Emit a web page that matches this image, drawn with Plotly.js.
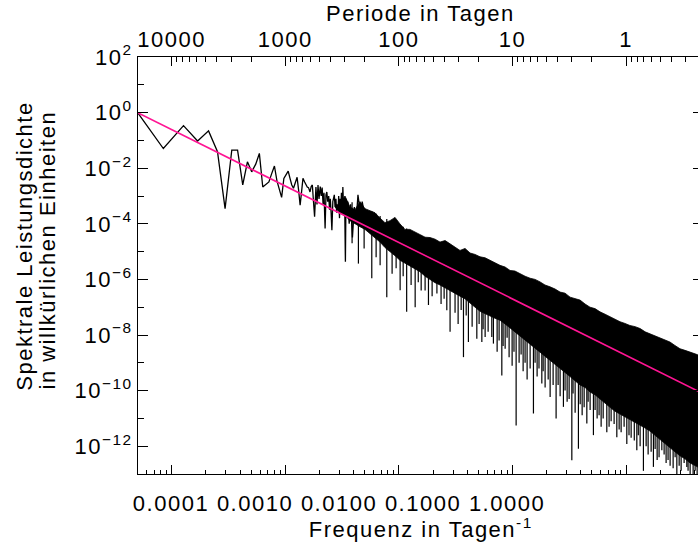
<!DOCTYPE html>
<html><head><meta charset="utf-8">
<script src="https://cdn.plot.ly/plotly-3.0.1.min.js"></script>
<style>
html,body{margin:0;padding:0;overflow:hidden;background:#fff}
#chart{width:706px;height:544px}
.main-svg text{letter-spacing:1.5px}
</style></head><body><div id="chart"></div>
<script>
// Low-frequency part of the spectrum (individually visible points)
const specFreq = [4.22e-5,8.44e-5,1.27e-4,1.69e-4,2.11e-4,2.53e-4,2.95e-4,3.38e-4,3.80e-4,4.22e-4,
 4.64e-4,5.06e-4,5.49e-4,5.91e-4,6.33e-4,6.75e-4,7.17e-4,7.60e-4,8.02e-4,8.44e-4,
 8.86e-4,9.28e-4,9.71e-4,1.01e-3,1.06e-3,1.10e-3,1.14e-3,1.18e-3,1.22e-3,1.27e-3,
 1.31e-3,1.35e-3,1.39e-3,1.43e-3,1.48e-3,1.52e-3,1.56e-3,1.60e-3,1.65e-3,1.69e-3,
 1.73e-3,1.77e-3,1.81e-3,1.86e-3,1.90e-3,1.94e-3,1.98e-3,2.03e-3,2.07e-3,2.11e-3,
 2.15e-3,2.19e-3,2.24e-3,2.28e-3,2.32e-3,2.36e-3,2.41e-3,2.45e-3,2.49e-3,2.53e-3,
 2.57e-3,2.62e-3,2.66e-3,2.70e-3,2.74e-3,2.79e-3,2.83e-3,2.87e-3,2.91e-3,2.95e-3,
 3.00e-3,3.04e-3,3.08e-3,3.12e-3,3.17e-3,3.21e-3,3.25e-3,3.29e-3,3.33e-3,3.38e-3,
 3.42e-3,3.46e-3,3.55e-3,3.65e-3,3.76e-3,3.90e-3,4.05e-3,4.22e-3,4.36e-3,4.60e-3,
 4.75e-3,5.10e-3];
const specPower = [2.7,5.1e-2,0.34,9.5e-2,0.22,3.9e-2,3.5e-4,4.5e-2,4.5e-2,2.5e-3,
 1.7e-2,7.4e-3,1.4e-2,3.4e-2,2.1e-3,2.7e-3,3.2e-3,6.5e-3,1.2e-2,3.5e-3,
 1.9e-3,8.9e-4,4.3e-3,5.6e-3,7.9e-3,4.3e-3,2.5e-3,1.9e-3,2.8e-3,4.7e-3,
 1.6e-3,4.7e-4,1.4e-3,4.3e-3,3.2e-3,2.5e-3,2.1e-3,2.0e-3,1.4e-3,2.2e-3,
 2.5e-3,6.3e-4,1.8e-4,2.1e-3,5.0e-4,2.5e-3,7.9e-4,2.2e-3,1.0e-3,2.0e-3,
 5.0e-4,1.3e-3,6.8e-5,1.1e-3,1.4e-3,6.3e-4,1.0e-3,3.2e-4,7.9e-4,2.5e-4,
 5.9e-5,6.3e-4,8.9e-4,1.1e-3,4.0e-4,7.9e-4,2.5e-4,5.0e-4,3.1e-4,1.0e-3,
 1.6e-4,7.9e-4,4.0e-4,1.3e-3,2.5e-4,2.1e-3,5.0e-4,2.0e-4,6.3e-4,4.3e-6,
 7.9e-4,4.0e-4,6.3e-4,1.0e-4,5.0e-4,3.2e-5,4.0e-4,1.6e-4,1.1e-3,2.0e-4,
 6.3e-4,1.3e-4];

// Dense part: upper and lower edge of the solid black band
const bandFreq = [2.74e-3,3.03e-3,3.35e-3,3.71e-3,4.11e-3,4.54e-3,5.03e-3,5.57e-3,6.16e-3,6.82e-3,
 7.54e-3,8.35e-3,9.24e-3,1.02e-2,1.13e-2,1.25e-2,1.39e-2,1.53e-2,1.70e-2,1.88e-2,
 2.08e-2,2.30e-2,2.55e-2,2.82e-2,3.12e-2,3.45e-2,3.82e-2,4.23e-2,4.68e-2,5.18e-2,
 5.73e-2,6.34e-2,7.01e-2,7.76e-2,8.59e-2,9.51e-2,0.105,0.116,0.129,0.143,
 0.158,0.175,0.193,0.214,0.237,0.262,0.290,0.321,0.355,0.393,
 0.435,0.481,0.532,0.589,0.652,0.722,0.799,0.884,0.978,1.08,
 1.20,1.33,1.47,1.62,1.80,1.99,2.20,2.43,2.69,2.98,
 3.30,3.65,4.04,4.48,4.96];
const bandUpper = [4.0e-4,5.0e-4,1.0e-3,4.0e-4,3.2e-4,6.3e-4,3.5e-4,3.0e-4,2.5e-4,1.6e-4,
 1.1e-4,1.3e-4,1.7e-4,1.0e-4,6.3e-5,6.3e-5,5.0e-5,4.0e-5,3.3e-5,3.2e-5,
 2.8e-5,2.2e-5,2.5e-5,1.9e-5,1.4e-5,1.1e-5,1.3e-5,8.9e-6,7.9e-6,6.5e-6,
 6.0e-6,4.9e-6,4.0e-6,3.2e-6,2.8e-6,2.1e-6,2.0e-6,1.6e-6,1.3e-6,1.1e-6,
 1.0e-6,8.1e-7,6.3e-7,5.4e-7,4.5e-7,3.5e-7,3.2e-7,2.3e-7,2.1e-7,1.8e-7,
 1.3e-7,1.0e-7,8.9e-8,6.8e-8,5.6e-8,4.5e-8,3.8e-8,3.0e-8,2.6e-8,2.2e-8,
 2.0e-8,1.7e-8,1.3e-8,1.1e-8,8.9e-9,7.4e-9,6.6e-9,5.6e-9,4.2e-9,3.2e-9,
 2.8e-9,2.5e-9,2.1e-9,1.8e-9,1.5e-9];
const bandLower = [4.0e-4,2.5e-4,2.0e-4,1.3e-4,1.0e-4,7.9e-5,6.3e-5,4.5e-5,3.2e-5,2.2e-5,
 1.4e-5,1.0e-5,7.1e-6,4.9e-6,3.8e-6,3.0e-6,2.4e-6,1.9e-6,1.3e-6,1.0e-6,
 7.6e-7,6.3e-7,5.2e-7,4.1e-7,3.2e-7,2.5e-7,2.0e-7,1.4e-7,1.0e-7,7.1e-8,
 5.6e-8,4.8e-8,4.0e-8,3.4e-8,2.5e-8,1.8e-8,1.3e-8,1.0e-8,7.1e-9,5.0e-9,
 3.5e-9,2.5e-9,1.8e-9,1.3e-9,8.9e-10,6.3e-10,4.5e-10,3.2e-10,2.2e-10,1.6e-10,
 1.3e-10,8.9e-11,7.1e-11,5.0e-11,3.5e-11,2.5e-11,1.8e-11,1.4e-11,1.1e-11,8.9e-12,
 7.1e-12,5.6e-12,4.5e-12,3.5e-12,2.5e-12,1.8e-12,1.3e-12,8.9e-13,6.3e-13,4.5e-13,
 3.5e-13,2.5e-13,2.0e-13,1.6e-13,1.3e-13];

// Downward dips below the band (from local high to dip minimum)
const dipFreq = [3.87e-3,4.40e-3,4.94e-3,5.77e-3,6.30e-3,6.83e-3,7.82e-3,8.71e-3,9.45e-3,1.025e-2,
 1.17e-2,1.28e-2,1.39e-2,1.57e-2,1.82e-2,1.96e-2,2.16e-2,2.35e-2,2.64e-2,2.82e-2,
 3.12e-2,3.32e-2,3.70e-2,4.09e-2,4.41e-2,4.85e-2,5.37e-2,5.74e-2,6.10e-2,6.57e-2,
 6.79e-2,7.32e-2,8.05e-2,8.61e-2,9.33e-2,9.92e-2,0.1076,0.1143,0.124,0.1344,
 0.1429,0.1528,0.1646,0.1811,0.1936,0.2143,0.2277,0.2419,0.2624,0.2806,
 0.3024,0.3327,0.3557,0.3803,0.41,0.4509,0.482,0.5154,0.5555,0.6025,
 0.6761,0.7378,0.8282,0.9036,1.014,1.107,1.242,1.328,1.42,1.562,
 1.739,1.875,2.062,2.249,2.439,2.593,2.795,3.049,3.422,3.66,
 3.889,4.217,
 1.09e-2,1.48e-2,1.70e-2,2.50e-2,3.53e-2,3.91e-2,5.08e-2,5.51e-2,7.62e-2,8.26e-2,
 8.96e-2,0.103,0.119,0.129,0.158,0.171,0.186,0.206,0.252,0.290,
 0.315,0.341,0.394,0.427,0.463,0.533,0.578,0.628,0.708,0.784,
 0.868,0.960,1.06,1.18,1.28,1.50,1.66,1.80,1.95,2.16,
 2.34,2.70,2.93,3.24,3.51,4.05];
const dipHigh = [6.0e-4,4.7e-4,3.7e-4,2.8e-4,2.3e-4,1.9e-4,1.5e-4,1.2e-4,1.0e-4,8.7e-5,
 6.8e-5,5.6e-5,4.8e-5,3.8e-5,2.8e-5,2.5e-5,2.0e-5,1.7e-5,1.3e-5,1.2e-5,
 9.8e-6,8.5e-6,6.9e-6,5.6e-6,4.9e-6,4.1e-6,3.3e-6,2.9e-6,2.6e-6,2.2e-6,
 2.1e-6,1.8e-6,1.5e-6,1.3e-6,1.1e-6,1.0e-6,8.9e-7,7.9e-7,6.8e-7,5.9e-7,
 5.2e-7,4.7e-7,4.0e-7,3.4e-7,3.0e-7,2.5e-7,2.2e-7,1.9e-7,1.7e-7,1.5e-7,
 1.3e-7,1.1e-7,9.5e-8,8.5e-8,7.4e-8,6.2e-8,5.5e-8,4.8e-8,4.2e-8,3.6e-8,
 2.9e-8,2.5e-8,2.0e-8,1.7e-8,1.4e-8,1.2e-8,9.3e-9,8.3e-9,7.4e-9,6.2e-9,
 5.0e-9,4.4e-9,3.7e-9,3.2e-9,2.7e-9,2.4e-9,2.1e-9,1.8e-9,1.4e-9,1.3e-9,
 1.1e-9,9.8e-10,
 7.8e-5,4.3e-5,3.2e-5,1.5e-5,7.6e-6,6.2e-6,3.7e-6,3.2e-6,1.7e-6,1.4e-6,
 1.3e-6,9.5e-7,7.4e-7,6.3e-7,4.4e-7,3.7e-7,3.2e-7,2.6e-7,1.8e-7,1.4e-7,
 1.2e-7,1.0e-7,7.9e-8,6.9e-8,5.9e-8,4.6e-8,3.9e-8,3.4e-8,2.7e-8,2.2e-8,
 1.8e-8,1.5e-8,1.3e-8,1.0e-8,8.9e-9,6.6e-9,5.5e-9,4.7e-9,4.1e-9,3.4e-9,
 2.9e-9,2.2e-9,1.9e-9,1.6e-9,1.4e-9,1.0e-9];
const dipLow = [2.0e-5,3.7e-6,1.3e-5,1.1e-6,6.3e-6,3.2e-6,2.3e-7,1.6e-6,2.5e-6,4.1e-7,
 6.8e-8,6.3e-7,1.0e-7,4.0e-7,1.2e-7,2.5e-7,3.1e-7,1.3e-7,7.8e-8,1.3e-8,
 6.3e-8,2.5e-8,1.6e-9,5.6e-9,2.0e-8,7.4e-9,5.6e-9,8.5e-9,1.3e-8,8.5e-9,
 4.9e-9,2.5e-9,3.5e-10,3.2e-9,1.6e-9,7.9e-10,5.6e-12,1.0e-9,5.0e-10,2.5e-10,
 6.3e-10,1.5e-11,3.2e-10,1.8e-10,1.3e-10,5.9e-11,1.6e-10,1.0e-11,6.3e-11,2.6e-11,
 4.0e-11,3.1e-13,1.6e-11,8.1e-13,1.3e-11,6.5e-12,2.0e-11,2.5e-12,1.0e-11,5.0e-12,
 3.2e-12,7.9e-12,2.1e-12,3.2e-12,1.2e-12,2.0e-12,7.1e-13,1.0e-12,1.3e-13,5.0e-13,
 1.8e-13,3.2e-13,7.1e-13,2.5e-13,2.0e-13,1.6e-13,6.3e-14,1.3e-13,1.8e-13,6.3e-14,
 6.3e-14,7.9e-14,
 1.3e-6,7.9e-7,4.0e-7,2.0e-7,7.9e-8,5.0e-8,2.5e-8,1.6e-8,6.3e-9,4.0e-9,
 7.9e-9,2.5e-9,2.0e-9,1.0e-9,1.0e-9,6.3e-10,5.0e-10,2.5e-10,1.6e-10,1.0e-10,
 5.0e-11,7.9e-11,3.2e-11,2.5e-11,4.0e-11,2.0e-11,1.3e-11,1.0e-11,5.0e-12,6.3e-12,
 4.0e-12,5.0e-12,2.5e-12,1.6e-12,2.5e-12,1.0e-12,6.3e-13,7.9e-13,4.0e-13,5.0e-13,
 3.2e-13,4.0e-13,2.0e-13,2.5e-13,1.3e-13,1.3e-13];

// Fitted power law (magenta line)
const fitFreq = [5.0e-5, 5.0];
const fitPower = [1.0, 7.0e-11];

// Tick labels
const freqTicks = [1e-4, 1e-3, 1e-2, 1e-1, 1];
const freqTickText = ["0.0001","0.0010","0.0100","0.1000","1.0000"];
const periodTicks = [10000, 1000, 100, 10, 1];
const periodTickText = ["10000","1000","100","10","1"];
const powerTicks = [1e2,1,1e-2,1e-4,1e-6,1e-8,1e-10,1e-12];
const powerTickText = ["10<sup>2</sup>","10<sup>0</sup>","10<sup>\u22122</sup>","10<sup>\u22124</sup>",
 "10<sup>\u22126</sup>","10<sup>\u22128</sup>","10<sup>\u221210</sup>","10<sup>\u221212</sup>"];
const powerMinor = [1e1,1e-1,1e-3,1e-5,1e-7,1e-9,1e-11];

const FONT = '"Liberation Sans", Arial, sans-serif';
const xLo = Math.log10(5.05e-5), xHi = Math.log10(4.75);
// the bottom labels of the original are spaced more tightly than its ticks
const labLo = -4.393, labHi = 2.333;

const mult = [2,3,4,5,6,7,8,9];
const freqMinor = [];
[1e-5,1e-4,1e-3,1e-2,1e-1,1].forEach(d => mult.forEach(m => freqMinor.push(m*d)));
const periodMinor = [];
[10000,1000,100,10,1,0.1].forEach(d => mult.forEach(m => periodMinor.push(1/(m*d))));

const dipX = [], dipY = [];
dipFreq.forEach((f,i) => { dipX.push(f,f,null); dipY.push(dipHigh[i], dipLow[i], null); });

const traces = [
  {x: bandFreq.concat(bandFreq.slice().reverse()), y: bandUpper.concat(bandLower.slice().reverse()),
   type:'scatter', mode:'lines', fill:'toself', fillcolor:'#000', line:{color:'#000', width:0.8},
   hoverinfo:'skip', showlegend:false},
  {x: dipX, y: dipY, type:'scatter', mode:'lines', line:{color:'#000', width:1.2}, showlegend:false, hoverinfo:'skip'},
  {x: specFreq, y: specPower, type:'scatter', mode:'lines', line:{color:'#000', width:1.3}, showlegend:false},
  {x: [null], y: [null], xaxis:'x3', type:'scatter', mode:'lines', showlegend:false},
  {x: fitFreq, y: fitPower, type:'scatter', mode:'lines', xaxis:'x2', line:{color:'#ff1493', width:1.6}, showlegend:false}
];

const tickFont = {family:FONT, size:22, color:'#000'};
const axisCommon = {type:'log', range:[xLo, xHi], showgrid:false, zeroline:false,
  showline:true, linecolor:'#000', linewidth:1, ticks:'inside', tickcolor:'#000', tickwidth:1,
  tickfont:tickFont, tickmode:'array'};

const layout = {
  width:706, height:544,
  margin:{l:138, r:3, t:57, b:70},
  paper_bgcolor:'#fff', plot_bgcolor:'#fff', showlegend:false,
  xaxis: Object.assign({}, axisCommon, {tickvals:freqTicks, ticktext:freqTickText, ticklen:9,
    showticklabels:false,
    minor:{tickmode:'array', tickvals:freqMinor, ticklen:4.5, ticks:'inside', tickcolor:'#000', tickwidth:1}}),
  xaxis3: {overlaying:'x', side:'bottom', anchor:'y', type:'log', range:[labLo, labHi],
    showgrid:false, zeroline:false, showline:false, ticks:'', tickmode:'array',
    tickvals:freqTicks, ticktext:freqTickText, tickfont:tickFont, ticklabelstandoff:14},
  xaxis2: Object.assign({}, axisCommon, {overlaying:'x', side:'top', anchor:'y',
    tickvals:periodTicks.map(p => 1/p), ticktext:periodTickText, ticklen:9, ticklabelstandoff:0,
    minor:{tickmode:'array', tickvals:periodMinor, ticklen:5, ticks:'inside', tickcolor:'#000', tickwidth:1}}),
  yaxis: {type:'log', range:[-13, 2], showgrid:false, zeroline:false, showline:true, linecolor:'#000',
    linewidth:1, mirror:'ticks', ticks:'inside', ticklen:10, tickcolor:'#000', tickwidth:1,
    tickmode:'array', tickvals:powerTicks, ticktext:powerTickText, ticklabelstandoff:0,
    tickfont:tickFont,
    minor:{tickmode:'array', tickvals:powerMinor, ticklen:5.5, ticks:'inside', tickcolor:'#000', tickwidth:1}},
  annotations: [
    {text:'Frequenz in Tagen<sup>-1</sup>', xref:'paper', yref:'paper', x:0.5, y:(474-528)/417,
     xanchor:'center', yanchor:'middle', showarrow:false, font:{family:FONT, size:22, color:'#000'}},
    {text:'Periode in Tagen', xref:'paper', yref:'paper', x:0.5, y:(474-14)/417,
     xanchor:'center', yanchor:'middle', showarrow:false, font:{family:FONT, size:22, color:'#000'}},
    {text:'Spektrale Leistungsdichte', xref:'paper', yref:'paper', x:(24-138)/565, y:(474-374)/417, textangle:-90,
     xanchor:'center', yanchor:'bottom', showarrow:false, font:{family:FONT, size:22, color:'#000'}},
    {text:'in willkürlichen Einheiten', xref:'paper', yref:'paper', x:(47-138)/565, y:(474-372)/417, textangle:-90,
     xanchor:'center', yanchor:'bottom', showarrow:false, font:{family:FONT, size:22, color:'#000'}}
  ]
};

Plotly.newPlot('chart', traces, layout, {displayModeBar:false, staticPlot:true});
</script></body></html>
